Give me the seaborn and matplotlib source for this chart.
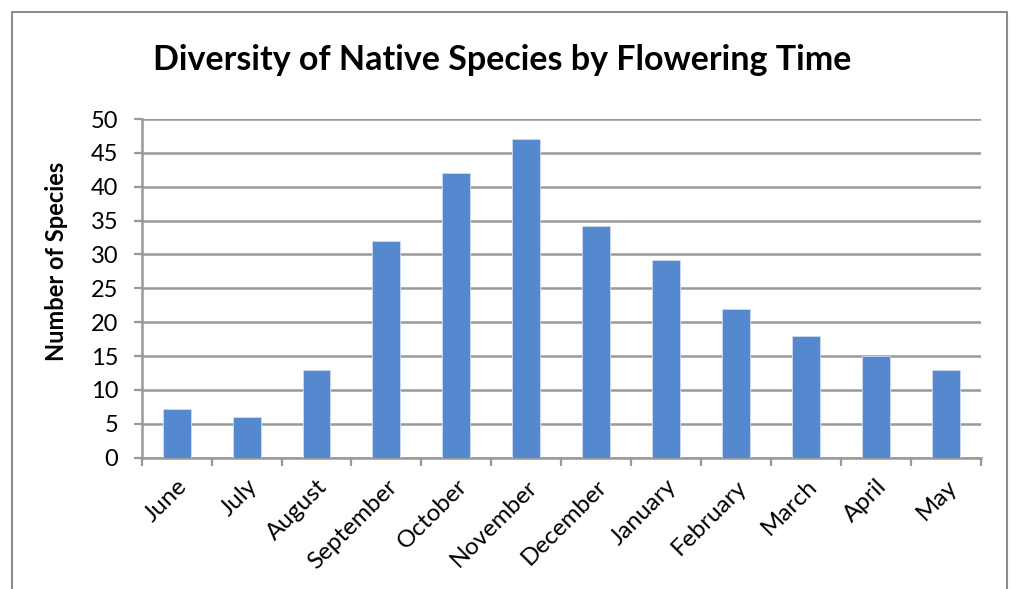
import matplotlib
matplotlib.use("Agg")
import matplotlib.pyplot as plt
import seaborn as sns
import pandas as pd
import numpy as np
from matplotlib.patches import Rectangle
from matplotlib.ticker import FixedLocator

months = ["June", "July", "August", "September", "October", "November",
          "December", "January", "February", "March", "April", "May"]
species = [7.2, 6.0, 13.0, 32.0, 42.0, 47.0, 34.2, 29.2, 22.0, 18.0, 15.0, 13.0]
y_ticks = [0, 5, 10, 15, 20, 25, 30, 35, 40, 45, 50]

title = "Diversity of Native Species by Flowering Time"
ylabel = "Number of Species"

sns.set_theme(style="white")
plt.rcParams["font.family"] = ["Lato", "DejaVu Sans"]
plt.rcParams["text.color"] = "black"
plt.rcParams["xtick.color"] = "black"
plt.rcParams["ytick.color"] = "black"
plt.rcParams["axes.labelcolor"] = "black"

df = pd.DataFrame({"month": months, "species": species})

fig = plt.figure(figsize=(10.15, 5.89), dpi=100)
ax = fig.add_axes([141.7 / 1015, 1 - 457.7 / 589, (980.7 - 141.7) / 1015, (457.7 - 119) / 589])

grid_c = "#999999"
sns.barplot(data=df, x="month", y="species", color="#5589CF", width=0.4,
            edgecolor="#cfdcf0", linewidth=0.6, saturation=1, ax=ax, zorder=3)

ax.set_xlim(-0.5, len(months) - 0.5)
ax.set_ylim(0, 50)
ax.set_yticks(y_ticks)
ax.set_yticklabels([str(t) for t in y_ticks], fontsize=17)
for t in y_ticks:
    ax.axhline(t, color=grid_c, lw=1.8, zorder=1)

ax.xaxis.set_minor_locator(FixedLocator(np.arange(-0.5, len(months), 1.0)))
ax.tick_params(axis="x", which="minor", length=6, width=1.6, color=grid_c, direction="out", bottom=True)
ax.tick_params(axis="x", which="major", length=0, pad=13)
ax.tick_params(axis="y", which="major", length=5.8, width=1.6, color=grid_c, direction="out", left=True, pad=11)
ax.set_xticks(range(len(months)))
ax.set_xticklabels(months, rotation=45, ha="right", rotation_mode="anchor", fontsize=17.5)

for s in ["top", "right"]:
    ax.spines[s].set_visible(False)
for s in ["left", "bottom"]:
    ax.spines[s].set_color(grid_c)
    ax.spines[s].set_linewidth(1.8)

ax.set_xlabel("")
ax.set_ylabel(ylabel, fontsize=17, fontweight="bold")
ax.yaxis.set_label_coords((57 - 141.7) / 839, (457.7 - 261) / 338.7)
ax.yaxis.label.set_va("center")

fig.text(502 / 1015, 1 - 60 / 589, title, ha="center", va="center", fontsize=24.5, fontweight="bold")

border = Rectangle((12 / 1015, -0.05), (1007 - 12) / 1015, 1 - 12 / 589 + 0.05,
                   transform=fig.transFigure, fill=False, edgecolor="#8c8c8c", lw=1.5)
fig.patches.append(border)

fig.savefig("out.png", dpi=100)
